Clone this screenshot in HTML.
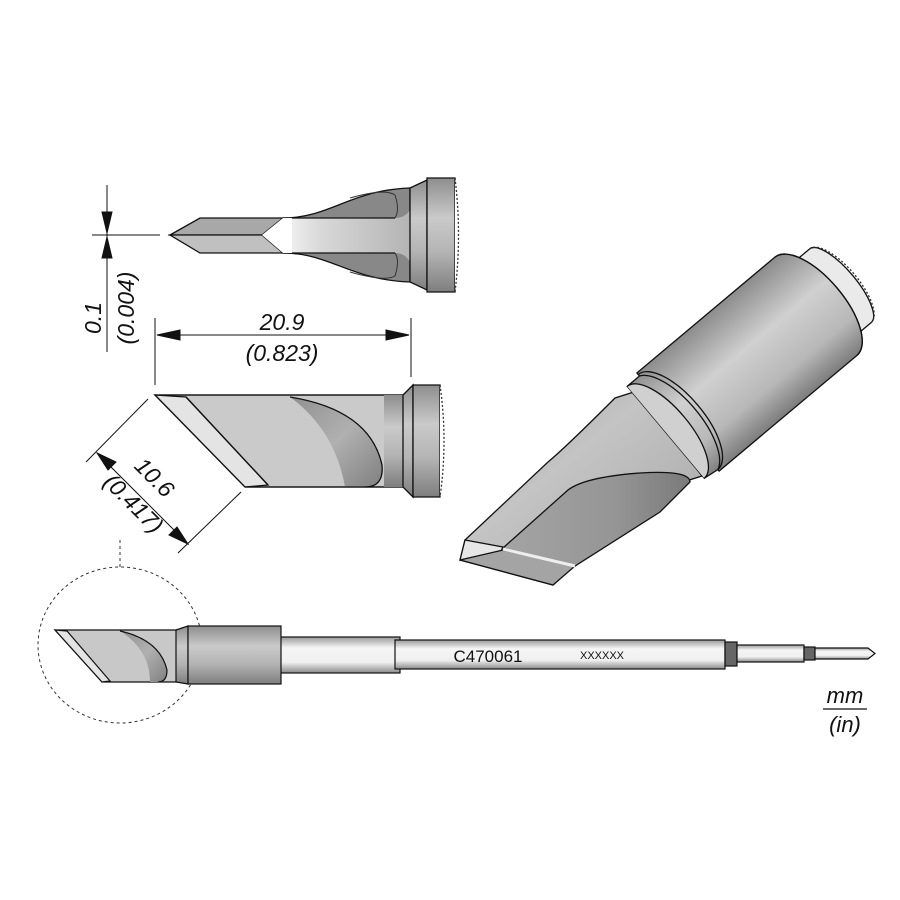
<!DOCTYPE html>
<html><head><meta charset="utf-8"><style>
html,body{margin:0;padding:0;background:#fff}
svg{display:block}
text{font-family:"Liberation Sans",sans-serif;font-style:italic;fill:#111}
</style></head><body>
<svg width="900" height="900" viewBox="0 0 900 900" xmlns="http://www.w3.org/2000/svg">
<defs>
<linearGradient id="gv" x1="0" y1="0" x2="0" y2="1">
<stop offset="0" stop-color="#8e8e8e"/><stop offset="0.35" stop-color="#cacaca"/><stop offset="0.65" stop-color="#b4b4b4"/><stop offset="1" stop-color="#7e7e7e"/></linearGradient>
<linearGradient id="band" x1="0" y1="0" x2="1" y2="0">
<stop offset="0" stop-color="#f4f4f4"/><stop offset="0.3" stop-color="#d8d8d8"/><stop offset="1" stop-color="#b4b4b4"/></linearGradient>
<linearGradient id="cyl" gradientUnits="userSpaceOnUse" x1="0" y1="-64" x2="0" y2="64">
<stop offset="0" stop-color="#8c8c8c"/><stop offset="0.4" stop-color="#d0d0d0"/><stop offset="0.75" stop-color="#b8b8b8"/><stop offset="1" stop-color="#7c7c7c"/></linearGradient>
<linearGradient id="blade3" x1="0" y1="0" x2="1" y2="1">
<stop offset="0" stop-color="#9a9a9a"/><stop offset="0.4" stop-color="#c4c4c4"/><stop offset="1" stop-color="#a4a4a4"/></linearGradient>
<linearGradient id="face3" x1="0" y1="0" x2="1" y2="0">
<stop offset="0" stop-color="#a4a4a4"/><stop offset="0.6" stop-color="#959595"/><stop offset="1" stop-color="#7a7a7a"/></linearGradient>
<linearGradient id="shaft" x1="0" y1="0" x2="0" y2="1">
<stop offset="0" stop-color="#9a9a9a"/><stop offset="0.3" stop-color="#f5f5f5"/><stop offset="0.7" stop-color="#f0f0f0"/><stop offset="1" stop-color="#8a8a8a"/></linearGradient>
<linearGradient id="scoop" x1="0" y1="0" x2="1" y2="1">
<stop offset="0" stop-color="#909090"/><stop offset="0.5" stop-color="#b0b0b0"/><stop offset="1" stop-color="#808080"/></linearGradient>
</defs>

<!-- TOP VIEW -->
<g stroke="#111" stroke-width="1.3">
<path d="M283,218 C330,218 350,190 410,188 L410,282 C350,280 330,253 283,253 Z" fill="#888"/>
<path d="M283,218 L395,218 Q405,218 410,210 L410,262 Q405,253 395,253 L283,253 Z" fill="url(#band)" stroke="none"/>
<path d="M350,198 Q385,188 395,195 Q400,210 395,218" fill="none" stroke="#333" stroke-width="1"/>
<path d="M350,272 Q385,282 395,276 Q400,260 395,253" fill="none" stroke="#333" stroke-width="1"/>
<line x1="283" y1="218" x2="395" y2="218"/><line x1="283" y1="253" x2="395" y2="253"/>
<path d="M410,188 L427,180 L427,290 L410,282 Z" fill="url(#gv)"/>
<path d="M427,178 L455,178 L455,292 L427,292 Z" fill="url(#gv)"/>
<path d="M455,178 Q462,235 455,292" fill="#fff" stroke="#333" stroke-dasharray="2,2"/>
<polygon points="170,235 200,218 283,218 262,235" fill="#a8a8a8"/>
<polygon points="170,235 262,235 283,253 200,253" fill="#c0c0c0"/>
<polygon points="262,235 283,218 292,218 292,253 283,253" fill="#fff" stroke="none"/>
</g>
<!-- 0.1 dimension -->
<g stroke="#111" stroke-width="1">
<line x1="92" y1="235" x2="160" y2="235"/>
<line x1="107" y1="185" x2="107" y2="352"/>
<polygon points="102,212 112,212 107,233" fill="#111"/>
<polygon points="102,258 112,258 107,237" fill="#111"/>
</g>
<text transform="translate(101,318) rotate(-90)" font-size="23" text-anchor="middle">0.1</text>
<text transform="translate(134,308) rotate(-90)" font-size="23" text-anchor="middle">(0.004)</text>

<!-- 20.9 dimension -->
<g stroke="#111" stroke-width="1">
<line x1="155" y1="318" x2="155" y2="385"/>
<line x1="411" y1="318" x2="411" y2="377"/>
<line x1="157" y1="335" x2="409" y2="335"/>
<polygon points="157,335 180,330 180,340" fill="#111"/>
<polygon points="409,335 386,330 386,340" fill="#111"/>
</g>
<text x="282" y="330" font-size="23" text-anchor="middle">20.9</text>
<text x="282" y="361" font-size="23" text-anchor="middle">(0.823)</text>

<!-- SIDE VIEW -->
<g stroke="#111" stroke-width="1.3">
<path d="M155,395 L405,395 L405,487 L245,487 Z" fill="#cacaca"/>
<polygon points="155,395 186,397 268,485 245,487" fill="#e4e4e4"/>
<path d="M290,397 Q370,410 382,465 Q383,487 365,487 L345,487 Q335,430 290,397 Z" fill="url(#scoop)" stroke="none"/>
<path d="M290,397 Q370,410 382,465 Q384,487 365,487" fill="none"/>
<line x1="186" y1="397" x2="268" y2="485"/>
<path d="M155,395 L405,395 M245,487 L405,487" fill="none"/>
<path d="M384,395 L405,395 L405,487 L384,487" fill="url(#gv)" stroke="none"/>
<path d="M403,395 L413,385 L413,497 L403,487 Z" fill="url(#gv)"/>
<path d="M413,385 L440,385 L440,497 L413,497 Z" fill="url(#gv)"/>
<path d="M440,385 Q448,441 440,497" fill="#fff" stroke="#333" stroke-dasharray="2,2"/>
</g>
<!-- 10.6 dimension -->
<g stroke="#111" stroke-width="1">
<line x1="148" y1="399" x2="86" y2="462"/>
<line x1="241" y1="492" x2="178" y2="553"/>
<line x1="97" y1="453" x2="188" y2="544"/>
<polygon points="97,453 116,462 108,470" fill="#111"/>
<polygon points="188,544 169,535 177,527" fill="#111"/>
</g>
<text transform="translate(149,483) rotate(45)" font-size="23" text-anchor="middle">10.6</text>
<text transform="translate(128,509) rotate(45)" font-size="23" text-anchor="middle">(0.417)</text>

<!-- 3D VIEW -->
<g stroke="#111" stroke-width="1.3">
<path d="M465,540 L548,462 Q565,448 615,398 L640,390 L702,476 L683,482 L655,515 L575,565 L553,585 L460,560 Z" fill="url(#blade3)"/>
<path d="M503,548 L568,490 Q585,477 640,473 Q690,470 690,482 L660,512 L575,566 Z" fill="url(#face3)"/>
<polygon points="465,540 503,547 500,553 460,560" fill="#e6e6e6"/>
<polygon points="460,560 503,550 575,566 553,585" fill="#a4a4a4"/>
<line x1="503" y1="549" x2="575" y2="566" stroke="#eee" stroke-width="3"/>
</g>
<g transform="translate(678,422) rotate(-40)" stroke="#111" stroke-width="1.3">
<path d="M180,-48 L212,-48 A16,48 0 0 1 212,48 L180,48 Z" fill="#eaeaea"/>
<path d="M212,-48 A18,48 0 0 1 212,48" fill="none" stroke="#333" stroke-dasharray="2,2"/>
<path d="M0,-64 L180,-64 A28,64 0 0 1 180,64 L0,64 Z" fill="url(#cyl)"/>
<path d="M180,-64 A28,64 0 0 1 180,64" fill="none"/>
<path d="M-16,-60 L0,-60 A26,62 0 0 1 0,62 L-16,60 Z" fill="url(#cyl)"/>
<path d="M-16,-60 A24,60 0 0 1 -16,60" fill="#d0d0d0"/>
<path d="M0,-62 A26,62 0 0 1 0,62" fill="none"/>
</g>

<!-- BOTTOM FULL VIEW -->
<ellipse cx="120" cy="645" rx="82" ry="78" fill="none" stroke="#333" stroke-dasharray="3,3"/>
<line x1="120" y1="540" x2="120" y2="567" stroke="#333" stroke-dasharray="3,3"/>
<g stroke="#111" stroke-width="1.2">
<rect x="280" y="637" width="120" height="36" fill="url(#shaft)"/>
<rect x="395" y="640" width="330" height="29" fill="url(#shaft)"/>
<rect x="725" y="642" width="12" height="24" fill="#666"/>
<rect x="737" y="645" width="67" height="17" fill="url(#shaft)"/>
<rect x="804" y="647" width="11" height="13" fill="#666"/>
<path d="M815,648 L868,648 L875,653.5 L868,659 L815,659 Z" fill="url(#shaft)"/>
<path d="M55,630 L178,630 L178,682 L102,682 Z" fill="#c8c8c8"/>
<polygon points="55,630 67,631 110,681 102,682" fill="#e4e4e4"/>
<path d="M120,631 Q160,640 167,670 Q167,682 160,682 L150,682 Q150,650 120,631 Z" fill="url(#scoop)" stroke="none"/>
<path d="M120,631 Q160,640 167,670 Q167,682 158,682" fill="none"/>
<path d="M176,630 L188,626 L188,684 L176,682 Z" fill="url(#gv)"/>
<rect x="188" y="626" width="93" height="58" fill="url(#gv)"/>
</g>
<text x="488" y="662" font-size="17" text-anchor="middle" style="font-style:normal">C470061</text>
<text x="602" y="659" font-size="11" text-anchor="middle" style="font-style:normal">XXXXXX</text>

<!-- units -->
<text x="845" y="703" font-size="22" text-anchor="middle">mm</text>
<line x1="823" y1="709" x2="867" y2="709" stroke="#111" stroke-width="1.2"/>
<text x="845" y="732" font-size="22" text-anchor="middle">(in)</text>
</svg>
</body></html>
